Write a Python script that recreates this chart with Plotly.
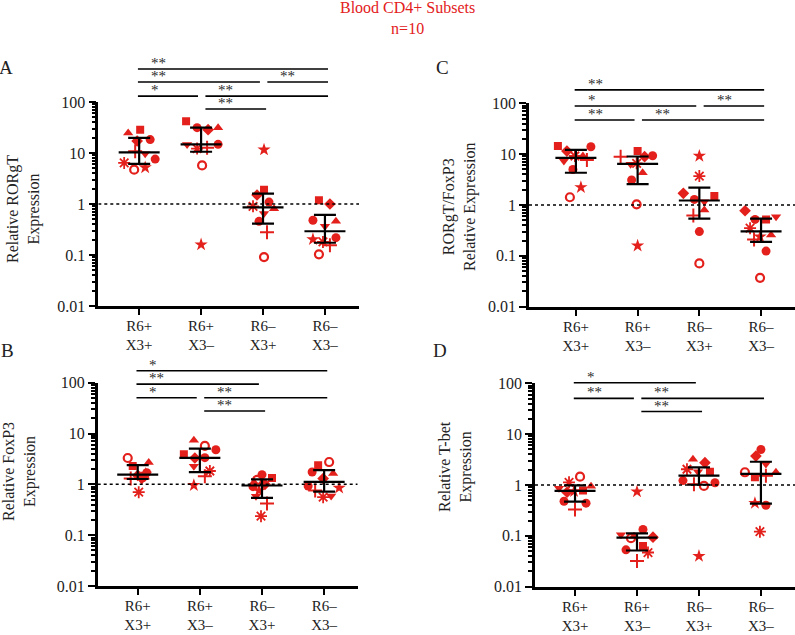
import numpy as np
import plotly.graph_objects as go

W, H = 795, 635
RED = "#E3201B"
FONT = "Liberation Serif"

groups = ["R6+<br>X3+", "R6+<br>X3–", "R6–<br>X3+", "R6–<br>X3–"]

# donor order: tri-up, square, diamond, circle1, plus, tri-down, asterisk, circle2, open circle, star
donor_symbols = ["triangle-up", "square", "diamond", "circle", "cross-thin-open",
                 "triangle-down", "asterisk-open", "circle", "circle-open", "star"]
donor_sizes = [9, 8, 9, 9, 10, 9, 10, 9, 8, 10]
donor_lw = [0, 0, 0, 0, 2, 0, 1.8, 0, 2.2, 0]

# Panel A: Relative RORgT Expression
A_vals = [
    [24.6, 28.7, 17.2, 18.3, 10.8, 9.7, 6.4, 7.6, 4.7, 5.2],
    [31.4, 41.8, 28.7, 31.4, 12.7, 14.6, 12.2, 14.8, 5.7, 0.16],
    [0.81, 1.91, 1.5, 1.09, 0.28, 0.65, 0.90, 0.457, 0.091, 11.6],
    [0.457, 1.18, 1.0, 0.48, 0.155, 0.365, 0.18, 0.219, 0.103, 0.203],
]
A_jit = [
    [-11, 1, -2, 11, -4, 6, -15, 16, -5, 6],
    [17, -15, 7, -4, 6, -14, -4, 17, 1, 0],
    [11, 1, -6, 6, 4, 1, -10, -4, 1, 1],
    [11, -6, 5, -12, 5, 0, -2, 11, -6, -12],
]
# Panel B: Relative FoxP3 Expression
B_vals = [
    [2.68, 2.3, 1.5, 1.35, 1.3, 1.2, 0.70, 1.7, 3.3, 1.6],
    [7.4, 3.9, 3.3, 4.8, 1.44, 2.26, 1.83, 3.35, 5.7, 0.96],
    [1.1, 1.33, 1.0, 1.55, 0.42, 0.58, 0.237, 0.9, 1.22, 0.75],
    [1.63, 2.37, 1.3, 1.75, 0.76, 0.59, 0.56, 0.93, 2.75, 0.85],
]
B_jit = [
    [11, -5, 0, 5, -7, 4, 1, 9, -10, 8],
    [-6, -16, -5, 16, 5, -6, 10, 5, 5, -6],
    [-8, 10, 3, 0, 5, -6, -1, -9, -5, -3],
    [9, -6, -1, -12, -9, 7, -1, -16, 5, 15],
]
# Panel C: RORgT/FoxP3 Relative Expression
C_vals = [
    [9.2, 14.5, 11.5, 14.0, 7.7, 7.3, 9.2, 5.0, 1.42, 2.23],
    [4.3, 11.5, 8.9, 9.3, 8.9, 6.3, 6.6, 3.1, 1.03, 0.158],
    [0.80, 1.5, 1.7, 1.29, 0.62, 1.16, 3.7, 0.30, 0.071, 9.2],
    [0.257, 0.52, 0.77, 0.52, 0.21, 0.59, 0.35, 0.124, 0.037, 0.238],
]
C_jit = [
    [7, -18, -9, 15, 11, -12, -1, -3, -6, 5],
    [5, 0, 7, 15, -17, -7, -1, -6, -1, 0],
    [5, 15, -16, -5, -6, 5, 0, 0, 0, 0],
    [10, 5, -16, -6, -7, 15, -11, 5, -1, -1],
]
# Panel D: Relative T-bet Expression
D_vals = [
    [0.94, 0.78, 0.72, 0.48, 0.33, 0.86, 1.13, 0.44, 1.46, 0.75],
    [0.098, 0.063, 0.094, 0.134, 0.032, 0.105, 0.047, 0.053, 0.09, 0.74],
    [3.2, 1.83, 2.75, 1.22, 1.03, 1.83, 2.04, 1.11, 0.96, 0.040],
    [1.78, 1.42, 3.7, 5.0, 1.52, 2.59, 0.121, 0.40, 1.78, 0.44],
]
D_jit = [
    [16, 8, -8, -11, 0, -16, -6, 11, 5, -1],
    [-3, 6, 16, 6, 0, -16, 11, -11, -6, 0],
    [-6, 11, 6, -16, -5, -1, -12, 16, 5, 0],
    [15, -6, -5, 0, 5, 5, -1, 5, -16, -6],
]

# significance comparisons: (group a, group b, row, label)
A_sig = [(0, 3, 0, "**"), (0, 2, 1, "**"), (2, 3, 1, "**"), (0, 1, 2, "*"), (1, 3, 2, "**"), (1, 2, 3, "**")]
B_sig = [(0, 3, 0, "*"), (0, 2, 1, "**"), (0, 1, 2, "*"), (1, 3, 2, "**"), (1, 2, 3, "**")]
C_sig = [(0, 3, 0, "**"), (0, 2, 1, "*"), (2, 3, 1, "**"), (0, 1, 2, "**"), (1, 3, 2, "**")]
D_sig = [(0, 2, 0, "*"), (0, 1, 1, "**"), (1, 3, 1, "**"), (1, 2, 2, "**")]

titles = {
    "A": "Relative RORgT<br>Expression",
    "B": "Relative FoxP3<br>Expression",
    "C": "RORgT/FoxP3<br>Relative Expression",
    "D": "Relative T-bet<br>Expression",
}

# ---- layout geometry (pixels) ----
panels = {
    "A": dict(px=(98.3, 359), py=(102, 306), xr=(-0.66, 3.55), rows=[1.162, 1.098, 1.029, 0.966],
              tc=(23, 209), lc=(6, 68), data=A_vals, jit=A_jit, sig=A_sig, ax=""),
    "B": dict(px=(97.7, 357.7), py=(382.7, 586), xr=(-0.644, 3.54), rows=[1.059, 0.993, 0.926, 0.861],
              tc=(19, 472), lc=(7, 351), data=B_vals, jit=B_jit, sig=B_sig, ax="2"),
    "C": dict(px=(529, 795), py=(103.3, 306.7), xr=(-0.76, 3.55), rows=[1.066, 0.987, 0.918],
              tc=(460, 207), lc=(442, 67), data=C_vals, jit=C_jit, sig=C_sig, ax="3"),
    "D": dict(px=(535, 795), py=(383.3, 586.7), xr=(-0.646, 3.55), rows=[1.003, 0.926, 0.861],
              tc=(455, 467), lc=(440, 350), data=D_vals, jit=D_jit, sig=D_sig, ax="4"),
}

fig = go.Figure()
shapes, annotations = [], []

major = [0.01, 0.1, 1, 10, 100]
minor_vals = [m * 10.0 ** k for k in range(-2, 2) for m in range(2, 10)]

for name, p in panels.items():
    ax = p["ax"]
    xa, ya = "x" + ax, "y" + ax
    pxw = (p["px"][1] - p["px"][0]) / (p["xr"][1] - p["xr"][0])  # px per unit
    for g in range(4):
        vals = p["data"][g]
        xs = [g + j / pxw for j in p["jit"][g]]
        fig.add_trace(go.Scatter(
            x=xs, y=vals, mode="markers", xaxis=xa, yaxis=ya, showlegend=False,
            marker=dict(symbol=donor_symbols, size=donor_sizes, color=RED, opacity=1,
                        line=dict(color=RED, width=donor_lw)),
        ))
    lx, ly = [], []
    for g in range(4):
        v = np.array(p["data"][g])
        med = float(np.median(v))
        q1, q3 = [float(q) for q in np.percentile(v, [25, 75], method="weibull")]
        hw, cw = 20.5 / pxw, 11 / pxw
        lx += [g - hw, g + hw, None, g, g, None, g - cw, g + cw, None, g - cw, g + cw, None]
        ly += [med, med, None, q1, q3, None, q1, q1, None, q3, q3, None]
    fig.add_trace(go.Scatter(x=lx, y=ly, mode="lines", xaxis=xa, yaxis=ya, showlegend=False,
                             line=dict(color="black", width=2.2)))
    fig.add_trace(go.Scatter(x=list(p["xr"]), y=[1, 1], mode="lines", xaxis=xa, yaxis=ya,
                             showlegend=False, line=dict(color="black", width=1.5, dash="dot")))
    for a, b, r, lab in p["sig"]:
        x0 = a - 0.02 if a == 0 else a + 0.07
        x1 = b + 0.05 if (b == 3 or a > 0) else b - 0.05
        yy = p["rows"][r]
        shapes.append(dict(type="line", xref=xa, yref=ya + " domain", x0=x0, x1=x1, y0=yy, y1=yy,
                           line=dict(color="black", width=1.6)))
        annotations.append(dict(xref=xa, yref=ya + " domain", x=x0 + 11 / pxw, y=yy, text=lab,
                                showarrow=False, xanchor="left", yanchor="bottom", yshift=-4,
                                font=dict(family=FONT, size=15, color="#2a2a2a")))
    dom_x = [p["px"][0] / W, p["px"][1] / W]
    dom_y = [1 - p["py"][1] / H, 1 - p["py"][0] / H]
    fig.update_layout(**{
        "xaxis" + ax: dict(domain=dom_x, range=list(p["xr"]), anchor=ya, tickmode="array",
                           tickvals=[0, 1, 2, 3], ticktext=groups, ticks="outside", ticklen=6,
                           tickwidth=2, tickcolor="black", showline=True, linewidth=2.6,
                           linecolor="black", showgrid=False, zeroline=False, fixedrange=True,
                           automargin=False, ticklabelstandoff=-2,
                           tickfont=dict(family=FONT, size=15, color="#222")),
        "yaxis" + ax: dict(domain=dom_y, type="log", range=[-2, 2], anchor=xa, tickmode="array",
                           tickvals=major, ticktext=["0.01", "0.1", "1", "10", "100"],
                           ticks="outside", ticklen=7, tickwidth=2.2, tickcolor="black",
                           showline=True, linewidth=2.6, linecolor="black", showgrid=False,
                           zeroline=False, fixedrange=True, automargin=False,
                           minor=dict(tickmode="array", tickvals=minor_vals, ticks="outside",
                                      ticklen=4, tickwidth=1.6, tickcolor="black", showgrid=False),
                           tickfont=dict(family=FONT, size=16, color="#222")),
    })
    annotations.append(dict(xref="paper", yref="paper", x=p["tc"][0] / W, y=1 - p["tc"][1] / H,
                            text=titles[name], textangle=-90, showarrow=False,
                            xanchor="center", yanchor="middle",
                            font=dict(family=FONT, size=16, color="#222")))
    annotations.append(dict(xref="paper", yref="paper", x=p["lc"][0] / W, y=1 - p["lc"][1] / H,
                            text=name, showarrow=False, xanchor="center", yanchor="middle",
                            font=dict(family=FONT, size=19, color="#222")))

annotations.append(dict(xref="paper", yref="paper", x=407 / W, y=1 - 18 / H,
                        text="Blood CD4+ Subsets<br>n=10", showarrow=False,
                        xanchor="center", yanchor="middle",
                        font=dict(family=FONT, size=16, color=RED)))

fig.update_layout(width=W, height=H, autosize=False, margin=dict(l=0, r=0, t=0, b=0, pad=0),
                  paper_bgcolor="white", plot_bgcolor="white",
                  font=dict(family=FONT, size=16, color="#222"),
                  shapes=shapes, annotations=annotations)

fig.write_html("out.html", config={"displayModeBar": False},
               post_script="document.body.style.margin='0';document.body.style.padding='0';"
                           "document.body.style.overflow='hidden';")
